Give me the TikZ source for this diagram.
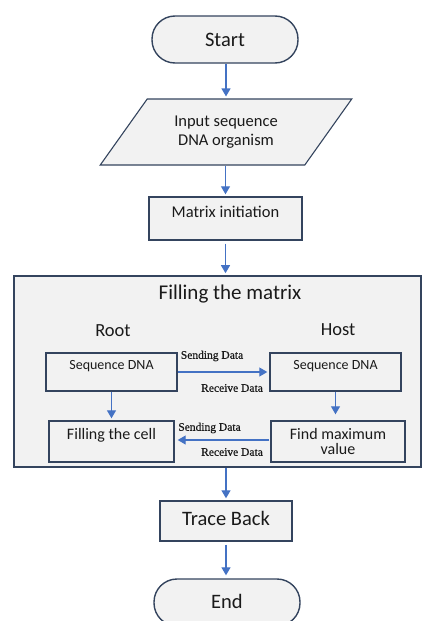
\documentclass[tikz,border=0pt]{standalone}
\usepackage{fontspec}
\setmainfont{Carlito}
\newfontfamily\serifsmall{Liberation Serif}[FakeBold=0.6]
\usetikzlibrary{shapes.geometric,arrows.meta}
\definecolor{boxline}{HTML}{34445E}
\definecolor{boxfill}{HTML}{F2F2F2}
\definecolor{arrowblue}{HTML}{4472C4}
\definecolor{txt}{HTML}{1A1A1A}
\tikzset{
  box/.style={draw=boxline, fill=boxfill, line width=1.4pt, inner sep=0pt, text=txt},
  stadium/.style={box, rounded corners=23pt, minimum width=146pt, minimum height=47pt},
  para/.style={box, trapezium, trapezium left angle=46, trapezium right angle=134,
     trapezium stretches=true, minimum width=252pt, minimum height=66pt, line width=1.1pt},
  txtnode/.style={inner sep=0pt, text=txt, align=center},
  arr/.style={draw=arrowblue, line width=1.2pt, -{Triangle[width=9pt,length=8pt]}},
  datalbl/.style={inner sep=0pt, text=txt, font=\serifsmall\fontsize{11.5}{13}\selectfont}
}
\begin{document}
\begin{tikzpicture}[x=1pt,y=-1pt]
\useasboundingbox (0,0) rectangle (423,621);
\clip (0,0) rectangle (423,621);
% Start
\node[stadium, font=\fontsize{20.5}{24}\selectfont] (start) at (225,39.5) {Start};
% Input
\node[para, align=center, font=\fontsize{16.5}{18.5}\selectfont] (input) at (226,132) {Input sequence\\DNA organism};
% Matrix initiation
\node[box, minimum width=153pt, minimum height=43pt] (mi) at (225.5,218.5) {};
\node[txtnode, font=\fontsize{16.5}{20}\selectfont] (mitxt) at (225.5,212) {Matrix initiation};
% Big box
\node[box, minimum width=407pt, minimum height=191pt, line width=1.6pt] (big) at (217.5,371.5) {};
\node[txtnode, font=\fontsize{21}{24}\selectfont] (fmtxt) at (230,294) {Filling the matrix};
\node[txtnode, font=\fontsize{18.5}{22}\selectfont] (root) at (113,331) {Root};
\node[txtnode, font=\fontsize{18.5}{22}\selectfont] (host) at (338,330) {Host};
% inner boxes
\node[box, minimum width=131pt, minimum height=38pt] (seql) at (111.5,372) {};
\node[txtnode, font=\fontsize{14}{16}\selectfont] (seqltxt) at (111.5,366) {Sequence DNA};
\node[box, minimum width=131pt, minimum height=38pt] (seqr) at (335.5,372) {};
\node[txtnode, font=\fontsize{14}{16}\selectfont] (seqrtxt) at (335.5,366) {Sequence DNA};
\node[box, minimum width=125pt, minimum height=41pt] (cell) at (111.5,441.5) {};
\node[txtnode, font=\fontsize{16}{19}\selectfont] (celltxt) at (111.5,435) {Filling the cell};
\node[box, minimum width=134pt, minimum height=41pt, align=center, font=\fontsize{16}{15}\selectfont] (maxv) at (338,441.5) {Find maximum\\value};
% data labels
\node[datalbl] (s1) at (212,356) {Sending Data};
\node[datalbl] (r1) at (232,388) {Receive Data};
\node[datalbl] (s2) at (209.5,428) {Sending Data};
\node[datalbl] (r2) at (232,452) {Receive Data};
% Trace back
\node[box, minimum width=132pt, minimum height=40pt] (tb) at (226,521) {};
\node[txtnode, font=\fontsize{20.5}{24}\selectfont] (tbtxt) at (226,518) {Trace Back};
% End
\node[stadium, font=\fontsize{20.5}{24}\selectfont, text depth=0pt] (end) at (227,602.5) {\raisebox{2pt}{End}};
% arrows
\draw[arr, shorten >=2pt] (start.south -| input.north) -- (input.north);
\draw[arr, shorten >=2pt] (input.south -| mi.north) -- (mi.north);
\draw[arr, shorten <=3pt, shorten >=2pt] (mi.south) -- (mi.south |- big.north);
\draw[arr, shorten >=2pt] (seql.east) -- (seql.east -| seqr.west);
\draw[arr, shorten >=2pt] (seql.south) -- (seql.south |- cell.north);
\draw[arr, shorten >=6pt] (seqr.south) -- (seqr.south |- maxv.north);
\draw[arr, shorten <=1pt, shorten >=3pt] ([yshift=1.5pt]maxv.west) -- ([yshift=1.5pt]maxv.west -| cell.east);
\draw[arr, shorten >=2pt] (tb.north |- big.south) -- (tb.north);
\draw[arr, shorten <=3pt, shorten >=3pt] (tb.south) -- (tb.south |- end.north);
\end{tikzpicture}
\end{document}
